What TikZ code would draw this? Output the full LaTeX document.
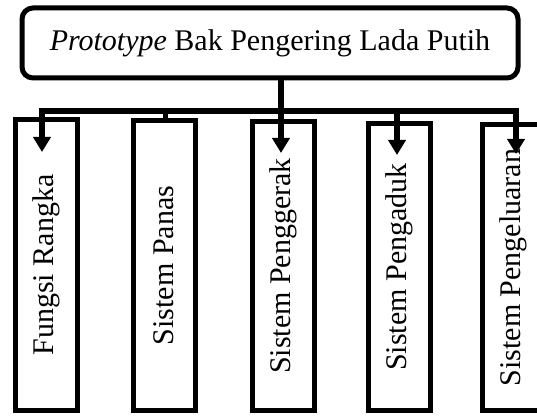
\documentclass[tikz,border=0pt]{standalone}
\usepackage{fontspec}
\setmainfont{Liberation Serif}
\usetikzlibrary{arrows.meta}
\tikzset{
  topbox/.style={draw, line width=5pt, rounded corners=11pt, minimum width=496pt, minimum height=70pt, inner sep=0pt, font=\fontsize{30}{36}\selectfont},
  subbox/.style={draw, line width=5pt, minimum width=62pt, inner sep=0pt, font=\fontsize{30}{36}\selectfont},
  conn/.style={line width=5.5pt},
  arr/.style={line width=5.5pt, -{Triangle[width=17pt,length=15pt]}}
}
\begin{document}
\begin{tikzpicture}[x=1pt,y=1pt]
\useasboundingbox (0,0) rectangle (537,417);
\node[topbox] (top) at (270,374) {\textit{Prototype} Bak Pengering Lada Putih};
\node[subbox, minimum height=290pt] (b1) at (46.5,152) {\rotatebox{90}{Fungsi Rangka}};
\node[subbox, minimum height=289pt] (b2) at (164,151.5) {\rotatebox{90}{Sistem Panas}};
\node[subbox, minimum height=288pt] (b3) at (283.5,151) {\rotatebox{90}{Sistem Penggerak}};
\node[subbox, minimum height=286pt] (b4) at (399,150) {\rotatebox{90}{Sistem Pengaduk}};
\node[subbox, minimum height=285pt] (b5) at (513.5,149.5) {\rotatebox{90}{Sistem Pengeluaran}};
\coordinate (J) at (281,306);
\coordinate (t1) at (42,265);
\coordinate (t3) at (281,264);
\coordinate (t4) at (397,262);
\coordinate (t5) at (516,263);
\draw[conn] (J |- top.south) -- (J);
\draw[conn] (J) -| ([xshift=1.5pt]b2.north);
\draw[arr] (J) -| (t1);
\draw[arr] (J) -- (t3);
\draw[arr] (J) -| (t4);
\draw[arr] (J) -| (t5);
\end{tikzpicture}
\end{document}
